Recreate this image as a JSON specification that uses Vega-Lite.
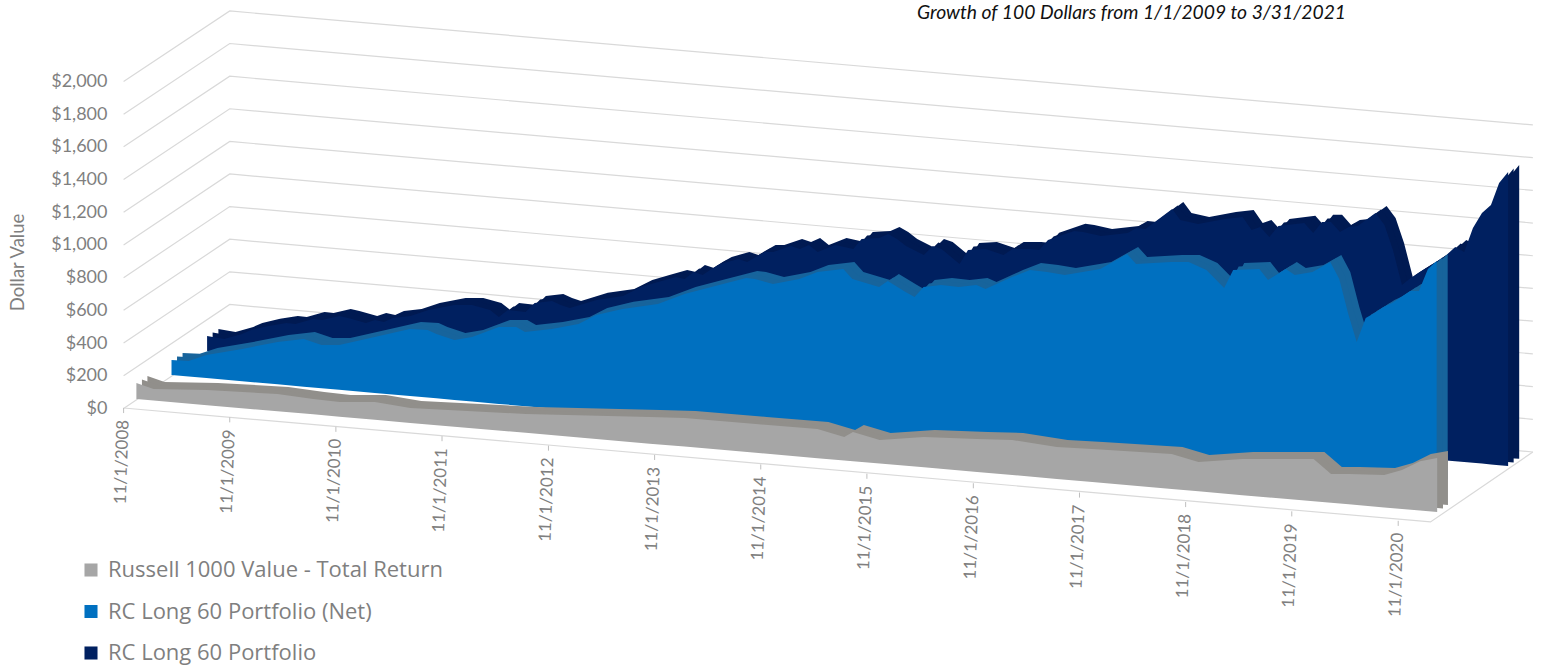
{"$schema":"https://vega.github.io/schema/vega-lite/v6.json","width":1541,"height":668,"padding":0,"autosize":{"type":"none"},"background":"white",
"title":{"text":"Growth of 100 Dollars from 1/1/2009 to 3/31/2021","anchor":"start","frame":"group","dx":917,"dy":27,"font":"Lato","fontSize":19.3,"fontStyle":"italic","fontWeight":"normal","color":"#111111"},
"datasets":{
"grid":[{"k":"2000","date":"2008-11-01","val":2000},{"k":"2000","date":"2009-11-01","val":2431},{"k":"2000","date":"2022-02-07","val":1734},{"k":"1800","date":"2008-11-01","val":1800},{"k":"1800","date":"2009-11-01","val":2232},{"k":"1800","date":"2022-02-07","val":1534},{"k":"1600","date":"2008-11-01","val":1600},{"k":"1600","date":"2009-11-01","val":2032},{"k":"1600","date":"2022-02-07","val":1334},{"k":"1400","date":"2008-11-01","val":1400},{"k":"1400","date":"2009-11-01","val":1833},{"k":"1400","date":"2022-02-07","val":1134},{"k":"1200","date":"2008-11-01","val":1200},{"k":"1200","date":"2009-11-01","val":1633},{"k":"1200","date":"2022-02-07","val":934},{"k":"1000","date":"2008-11-01","val":1000},{"k":"1000","date":"2009-11-01","val":1434},{"k":"1000","date":"2022-02-07","val":734},{"k":"800","date":"2008-11-01","val":800},{"k":"800","date":"2009-11-01","val":1235},{"k":"800","date":"2022-02-07","val":534},{"k":"600","date":"2008-11-01","val":600},{"k":"600","date":"2009-11-01","val":1035},{"k":"600","date":"2022-02-07","val":334},{"k":"400","date":"2008-11-01","val":400},{"k":"400","date":"2009-11-01","val":836},{"k":"400","date":"2022-02-07","val":134},{"k":"200","date":"2008-11-01","val":200},{"k":"200","date":"2009-11-01","val":636},{"k":"200","date":"2022-02-07","val":-66},{"k":"0","date":"2008-11-01","val":0},{"k":"0","date":"2009-11-01","val":437},{"k":"0","date":"2022-02-07","val":-266},{"k":"front","date":"2008-11-01","val":3},{"k":"front","date":"2021-02-20","val":-694},{"k":"front","date":"2022-02-07","val":-266}],
"labels":[{"date":"2008-11-01","label":"11/1/2008","tickTop":3,"tickBottom":-28,"labelAt":-70},{"date":"2009-11-01","label":"11/1/2009","tickTop":-54,"tickBottom":-85,"labelAt":-128},{"date":"2010-11-01","label":"11/1/2010","tickTop":-112,"tickBottom":-143,"labelAt":-185},{"date":"2011-11-01","label":"11/1/2011","tickTop":-169,"tickBottom":-200,"labelAt":-243},{"date":"2012-11-01","label":"11/1/2012","tickTop":-227,"tickBottom":-258,"labelAt":-300},{"date":"2013-11-01","label":"11/1/2013","tickTop":-284,"tickBottom":-315,"labelAt":-358},{"date":"2014-11-01","label":"11/1/2014","tickTop":-342,"tickBottom":-373,"labelAt":-415},{"date":"2015-11-01","label":"11/1/2015","tickTop":-399,"tickBottom":-430,"labelAt":-473},{"date":"2016-11-01","label":"11/1/2016","tickTop":-457,"tickBottom":-488,"labelAt":-530},{"date":"2017-11-01","label":"11/1/2017","tickTop":-514,"tickBottom":-545,"labelAt":-588},{"date":"2018-11-01","label":"11/1/2018","tickTop":-572,"tickBottom":-603,"labelAt":-645},{"date":"2019-11-01","label":"11/1/2019","tickTop":-629,"tickBottom":-660,"labelAt":-703},{"date":"2020-11-01","label":"11/1/2020","tickTop":-687,"tickBottom":-718,"labelAt":-760}],
"dark":[{"date":"2009-01-01","top":443,"base":352},{"date":"2009-03-01","top":425,"base":342},{"date":"2009-05-01","top":456,"base":333},{"date":"2009-06-01","top":480,"base":328},{"date":"2009-08-01","top":505,"base":318},{"date":"2009-10-01","top":523,"base":309},{"date":"2009-11-01","top":517,"base":304},{"date":"2010-01-01","top":547,"base":295},{"date":"2010-02-01","top":541,"base":290},{"date":"2010-04-01","top":566,"base":280},{"date":"2010-05-01","top":553,"base":275},{"date":"2010-07-01","top":523,"base":266},{"date":"2010-08-01","top":541,"base":261},{"date":"2010-09-01","top":529,"base":256},{"date":"2010-10-01","top":553,"base":252},{"date":"2010-12-01","top":566,"base":242},{"date":"2011-02-01","top":602,"base":232},{"date":"2011-05-01","top":633,"base":218},{"date":"2011-07-01","top":633,"base":208},{"date":"2011-09-01","top":602,"base":199},{"date":"2011-10-01","top":560,"base":194},{"date":"2011-11-01","top":602,"base":189},{"date":"2012-01-01","top":590,"base":180},{"date":"2012-02-01","top":645,"base":175},{"date":"2012-04-01","top":657,"base":165},{"date":"2012-05-01","top":633,"base":161},{"date":"2012-06-01","top":615,"base":156},{"date":"2012-09-01","top":664,"base":141},{"date":"2012-12-01","top":688,"base":127},{"date":"2013-02-01","top":743,"base":118},{"date":"2013-04-01","top":774,"base":108},{"date":"2013-06-01","top":804,"base":98},{"date":"2013-07-01","top":792,"base":94},{"date":"2013-08-01","top":835,"base":89},{"date":"2013-09-01","top":816,"base":84},{"date":"2013-10-01","top":853,"base":79},{"date":"2013-11-01","top":884,"base":74},{"date":"2014-01-01","top":914,"base":65},{"date":"2014-02-01","top":896,"base":60},{"date":"2014-04-01","top":957,"base":51},{"date":"2014-05-01","top":957,"base":46},{"date":"2014-07-01","top":994,"base":36},{"date":"2014-08-01","top":975,"base":31},{"date":"2014-09-01","top":1000,"base":27},{"date":"2014-10-01","top":957,"base":22},{"date":"2014-12-01","top":1000,"base":12},{"date":"2015-01-01","top":988,"base":7},{"date":"2015-02-01","top":975,"base":3},{"date":"2015-03-01","top":1037,"base":-2},{"date":"2015-05-01","top":1043,"base":-12},{"date":"2015-06-01","top":1067,"base":-16},{"date":"2015-07-01","top":1037,"base":-21},{"date":"2015-08-01","top":994,"base":-26},{"date":"2015-10-01","top":939,"base":-36},{"date":"2015-11-01","top":994,"base":-40},{"date":"2015-12-01","top":975,"base":-45},{"date":"2016-02-01","top":884,"base":-55},{"date":"2016-03-01","top":969,"base":-60},{"date":"2016-05-01","top":975,"base":-69},{"date":"2016-07-01","top":939,"base":-79},{"date":"2016-08-01","top":975,"base":-83},{"date":"2016-10-01","top":975,"base":-93},{"date":"2016-11-01","top":969,"base":-98},{"date":"2016-12-01","top":1031,"base":-103},{"date":"2017-03-01","top":1086,"base":-117},{"date":"2017-04-01","top":1079,"base":-122},{"date":"2017-06-01","top":1055,"base":-131},{"date":"2017-09-01","top":1073,"base":-146},{"date":"2017-10-01","top":1104,"base":-150},{"date":"2017-11-01","top":1098,"base":-155},{"date":"2018-02-01","top":1220,"base":-170},{"date":"2018-03-01","top":1153,"base":-174},{"date":"2018-05-01","top":1128,"base":-184},{"date":"2018-08-01","top":1159,"base":-198},{"date":"2018-10-01","top":1171,"base":-208},{"date":"2018-11-01","top":1092,"base":-213},{"date":"2018-12-01","top":1110,"base":-217},{"date":"2019-01-01","top":1049,"base":-222},{"date":"2019-02-01","top":1116,"base":-227},{"date":"2019-05-01","top":1135,"base":-241},{"date":"2019-06-01","top":1073,"base":-246},{"date":"2019-07-01","top":1141,"base":-251},{"date":"2019-08-01","top":1141,"base":-256},{"date":"2019-09-01","top":1079,"base":-260},{"date":"2019-10-01","top":1110,"base":-265},{"date":"2019-11-01","top":1116,"base":-270},{"date":"2020-01-01","top":1196,"base":-280},{"date":"2020-02-01","top":1122,"base":-284},{"date":"2020-03-01","top":969,"base":-289},{"date":"2020-04-01","top":755,"base":-294},{"date":"2020-05-01","top":798,"base":-299},{"date":"2020-06-01","top":835,"base":-304},{"date":"2020-07-01","top":865,"base":-308},{"date":"2020-08-01","top":902,"base":-313},{"date":"2020-09-01","top":939,"base":-318},{"date":"2020-10-01","top":988,"base":-323},{"date":"2020-11-01","top":957,"base":-327},{"date":"2020-12-01","top":1104,"base":-332},{"date":"2021-01-01","top":1196,"base":-337},{"date":"2021-02-01","top":1245,"base":-342},{"date":"2021-03-01","top":1379,"base":-347},{"date":"2021-04-01","top":1446,"base":-351}],
"blue":[{"date":"2009-01-01","top":297,"base":205},{"date":"2009-03-01","top":291,"base":195},{"date":"2009-05-01","top":327,"base":186},{"date":"2009-09-01","top":364,"base":167},{"date":"2010-01-01","top":407,"base":148},{"date":"2010-04-01","top":425,"base":133},{"date":"2010-06-01","top":388,"base":124},{"date":"2010-08-01","top":388,"base":114},{"date":"2010-12-01","top":437,"base":95},{"date":"2011-04-01","top":486,"base":76},{"date":"2011-06-01","top":480,"base":67},{"date":"2011-07-01","top":456,"base":62},{"date":"2011-09-01","top":419,"base":52},{"date":"2011-11-01","top":437,"base":43},{"date":"2012-02-01","top":498,"base":28},{"date":"2012-04-01","top":498,"base":19},{"date":"2012-05-01","top":468,"base":14},{"date":"2012-08-01","top":486,"base":0},{"date":"2012-11-01","top":517,"base":-14},{"date":"2013-01-01","top":572,"base":-24},{"date":"2013-04-01","top":609,"base":-38},{"date":"2013-08-01","top":639,"base":-57},{"date":"2013-11-01","top":700,"base":-72},{"date":"2014-02-01","top":743,"base":-86},{"date":"2014-06-01","top":798,"base":-105},{"date":"2014-07-01","top":792,"base":-110},{"date":"2014-09-01","top":761,"base":-119},{"date":"2014-12-01","top":792,"base":-134},{"date":"2015-02-01","top":835,"base":-143},{"date":"2015-05-01","top":853,"base":-158},{"date":"2015-06-01","top":792,"base":-162},{"date":"2015-09-01","top":743,"base":-177},{"date":"2015-10-01","top":780,"base":-181},{"date":"2015-12-01","top":713,"base":-191},{"date":"2016-01-01","top":682,"base":-196},{"date":"2016-02-01","top":743,"base":-200},{"date":"2016-04-01","top":755,"base":-210},{"date":"2016-06-01","top":743,"base":-220},{"date":"2016-08-01","top":755,"base":-229},{"date":"2016-09-01","top":731,"base":-234},{"date":"2016-12-01","top":804,"base":-248},{"date":"2017-02-01","top":847,"base":-258},{"date":"2017-04-01","top":835,"base":-267},{"date":"2017-06-01","top":816,"base":-277},{"date":"2017-10-01","top":853,"base":-296},{"date":"2018-01-01","top":945,"base":-310},{"date":"2018-02-01","top":884,"base":-315},{"date":"2018-06-01","top":896,"base":-334},{"date":"2018-08-01","top":896,"base":-344},{"date":"2018-10-01","top":847,"base":-353},{"date":"2018-12-01","top":737,"base":-363},{"date":"2019-01-01","top":847,"base":-367},{"date":"2019-04-01","top":853,"base":-382},{"date":"2019-05-01","top":786,"base":-386},{"date":"2019-07-01","top":853,"base":-396},{"date":"2019-08-01","top":816,"base":-401},{"date":"2019-10-01","top":835,"base":-410},{"date":"2019-12-01","top":896,"base":-420},{"date":"2020-01-01","top":792,"base":-425},{"date":"2020-02-01","top":578,"base":-429},{"date":"2020-03-01","top":407,"base":-434},{"date":"2020-04-01","top":553,"base":-439},{"date":"2020-05-01","top":584,"base":-444},{"date":"2020-06-01","top":621,"base":-448},{"date":"2020-07-01","top":645,"base":-453},{"date":"2020-08-01","top":682,"base":-458},{"date":"2020-09-01","top":719,"base":-463},{"date":"2020-10-01","top":719,"base":-468},{"date":"2020-11-01","top":853,"base":-472},{"date":"2020-12-01","top":902,"base":-477}],
"gray":[{"date":"2009-01-01","top":156,"base":58},{"date":"2009-03-01","top":119,"base":49},{"date":"2009-09-01","top":113,"base":20},{"date":"2010-05-01","top":89,"base":-17},{"date":"2010-09-01","top":58,"base":-36},{"date":"2010-12-01","top":40,"base":-50},{"date":"2011-04-01","top":40,"base":-69},{"date":"2011-08-01","top":3,"base":-88},{"date":"2012-09-01","top":-34,"base":-149},{"date":"2013-11-01","top":-52,"base":-215},{"date":"2014-03-01","top":-58,"base":-233},{"date":"2014-11-01","top":-95,"base":-271},{"date":"2015-06-01","top":-125,"base":-304},{"date":"2015-09-01","top":-174,"base":-318},{"date":"2015-10-01","top":-144,"base":-323},{"date":"2016-01-01","top":-193,"base":-337},{"date":"2016-06-01","top":-174,"base":-360},{"date":"2016-12-01","top":-187,"base":-389},{"date":"2017-04-01","top":-193,"base":-407},{"date":"2017-09-01","top":-235,"base":-431},{"date":"2018-01-01","top":-248,"base":-450},{"date":"2018-10-01","top":-278,"base":-492},{"date":"2019-01-01","top":-327,"base":-506},{"date":"2019-06-01","top":-309,"base":-530},{"date":"2020-02-01","top":-309,"base":-567},{"date":"2020-04-01","top":-401,"base":-577},{"date":"2020-06-01","top":-401,"base":-586},{"date":"2020-10-01","top":-407,"base":-605},{"date":"2020-12-01","top":-376,"base":-614},{"date":"2021-02-01","top":-322,"base":-624},{"date":"2021-04-01","top":-303,"base":-633}]
},
"resolve":{"scale":{"x":"independent","y":"independent"}},
"layer":[
{"data":{"name":"grid"},"mark":{"type":"line","color":"#d9d9d9","strokeWidth":1.2},"encoding":{"detail":{"field":"k"},"x":{"field":"date","type":"temporal","axis":null,"scale":{"domain":["2007-09-03","2022-03-07"]}},"y":{"field":"val","type":"quantitative","scale":{"domain":[-1587,2498],"nice":false,"zero":false},"axis":{"values":[0,200,400,600,800,1000,1200,1400,1600,1800,2000],"format":"$,.0f","grid":false,"domain":false,"ticks":false,"offset":-107,"labelPadding":0,"labelFont":"Lato","labelFontSize":18,"labelColor":"#7f7f7f","title":"Dollar Value","titleFont":"Lato","titleFontSize":18.5,"titleFontWeight":"normal","titleColor":"#7f7f7f","titleX":-90,"titleY":262,"titleAngle":-90,"titleAlign":"center","titleBaseline":"middle"}}}},
{"data":{"name":"dark"},"mark":{"type":"area","color":"#001a52"},"encoding":{"x":{"field":"date","type":"temporal","axis":null,"scale":{"domain":["2006-12-12","2021-06-15"]}},"y":{"field":"top","type":"quantitative","axis":null,"scale":{"domain":[-1630,2455],"nice":false,"zero":false}},"y2":{"field":"base"}}},
{"data":{"name":"dark"},"mark":{"type":"area","color":"#001a52"},"encoding":{"x":{"field":"date","type":"temporal","axis":null,"scale":{"domain":["2007-01-01","2021-07-04"]}},"y":{"field":"top","type":"quantitative","axis":null,"scale":{"domain":[-1608,2477],"nice":false,"zero":false}},"y2":{"field":"base"}}},
{"data":{"name":"dark"},"mark":{"type":"area"},"encoding":{"color":{"datum":"RC Long 60 Portfolio","type":"nominal","title":null,"scale":{"domain":["Russell 1000 Value - Total Return","RC Long 60 Portfolio (Net)","RC Long 60 Portfolio"],"range":["#a6a6a6","#0070c0","#002060"]}},"x":{"field":"date","type":"temporal","axis":null,"scale":{"domain":["2007-01-20","2021-07-23"]}},"y":{"field":"top","type":"quantitative","axis":null,"scale":{"domain":[-1587,2498],"nice":false,"zero":false}},"y2":{"field":"base"}}},
{"data":{"name":"blue"},"mark":{"type":"area","color":"#17649c"},"encoding":{"x":{"field":"date","type":"temporal","axis":null,"scale":{"domain":["2007-04-14","2021-10-18"]}},"y":{"field":"top","type":"quantitative","axis":null,"scale":{"domain":[-1630,2455],"nice":false,"zero":false}},"y2":{"field":"base"}}},
{"data":{"name":"blue"},"mark":{"type":"area","color":"#17649c"},"encoding":{"x":{"field":"date","type":"temporal","axis":null,"scale":{"domain":["2007-05-03","2021-11-06"]}},"y":{"field":"top","type":"quantitative","axis":null,"scale":{"domain":[-1608,2477],"nice":false,"zero":false}},"y2":{"field":"base"}}},
{"data":{"name":"blue"},"mark":{"type":"area"},"encoding":{"color":{"datum":"RC Long 60 Portfolio (Net)","type":"nominal","title":null},"x":{"field":"date","type":"temporal","axis":null,"scale":{"domain":["2007-05-22","2021-11-25"]}},"y":{"field":"top","type":"quantitative","axis":null,"scale":{"domain":[-1587,2498],"nice":false,"zero":false}},"y2":{"field":"base"}}},
{"data":{"name":"gray"},"mark":{"type":"area","color":"#918f8b"},"encoding":{"x":{"field":"date","type":"temporal","axis":null,"scale":{"domain":["2007-08-13","2022-02-15"]}},"y":{"field":"top","type":"quantitative","axis":null,"scale":{"domain":[-1630,2455],"nice":false,"zero":false}},"y2":{"field":"base"}}},
{"data":{"name":"gray"},"mark":{"type":"area","color":"#918f8b"},"encoding":{"x":{"field":"date","type":"temporal","axis":null,"scale":{"domain":["2007-09-01","2022-03-04"]}},"y":{"field":"top","type":"quantitative","axis":null,"scale":{"domain":[-1608,2477],"nice":false,"zero":false}},"y2":{"field":"base"}}},
{"data":{"name":"gray"},"mark":{"type":"area"},"encoding":{"color":{"datum":"Russell 1000 Value - Total Return","type":"nominal","title":null},"x":{"field":"date","type":"temporal","axis":null,"scale":{"domain":["2007-09-20","2022-03-24"]}},"y":{"field":"top","type":"quantitative","axis":null,"scale":{"domain":[-1587,2498],"nice":false,"zero":false}},"y2":{"field":"base"}}},
{"data":{"name":"labels"},"mark":{"type":"rule","color":"#bfbfbf","strokeWidth":1},"encoding":{"x":{"field":"date","type":"temporal","axis":null,"scale":{"domain":["2007-09-03","2022-03-07"]}},"y":{"field":"tickTop","type":"quantitative","axis":null,"scale":{"domain":[-1587,2498],"nice":false,"zero":false}},"y2":{"field":"tickBottom"}}},
{"data":{"name":"labels"},"mark":{"type":"text","angle":272,"align":"right","baseline":"middle","font":"Lato","fontSize":17,"color":"#7f7f7f"},"encoding":{"text":{"field":"label"},"x":{"field":"date","type":"temporal","axis":null,"scale":{"domain":["2007-09-03","2022-03-07"]}},"y":{"field":"labelAt","type":"quantitative","axis":null,"scale":{"domain":[-1587,2498],"nice":false,"zero":false}}}}
],
"config":{"view":{"stroke":null},"legend":{"orient":"none","legendX":80,"legendY":559,"symbolType":"square","symbolSize":170,"symbolStrokeWidth":0,"labelFont":"Open Sans","labelFontSize":22,"labelColor":"#7f7f7f","rowPadding":19.5,"labelOffset":6,"labelLimit":500}}}
